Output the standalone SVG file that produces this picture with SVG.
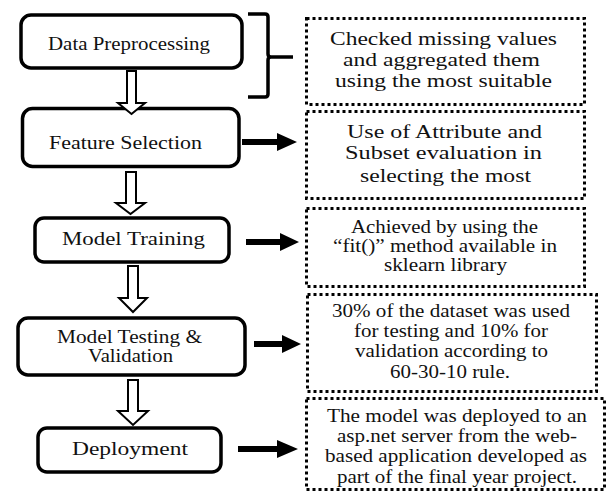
<svg xmlns="http://www.w3.org/2000/svg" width="611" height="493" viewBox="0 0 611 493">
<style>
.step{fill:#fff;stroke:#000;stroke-width:3.5}
.note{fill:#fff;stroke:#000;stroke-width:3;stroke-dasharray:3 3}
.t{font-family:"Liberation Serif","Times New Roman",serif;font-size:18px;fill:#111;text-anchor:middle}
.hollow{fill:#fff;stroke:#000;stroke-width:2;stroke-linejoin:miter}
.solid{fill:#000;stroke:none}
.brace{fill:none;stroke:#000;stroke-width:3.5;stroke-linejoin:round}
</style>
<rect width="611" height="493" fill="#fff"/>

<g id="notes">
<g id="note1">
<rect class="note" x="306.5" y="18.5" width="278" height="86"/>
<text class="t" x="443.5" y="45" textLength="227" lengthAdjust="spacingAndGlyphs">Checked missing values</text>
<text class="t" x="441.5" y="66" textLength="197" lengthAdjust="spacingAndGlyphs">and aggregated them</text>
<text class="t" x="443.5" y="87" textLength="217" lengthAdjust="spacingAndGlyphs">using the most suitable</text>
</g>
<g id="note2">
<rect class="note" x="306.5" y="111.5" width="278" height="87"/>
<text class="t" x="444.5" y="138" textLength="195" lengthAdjust="spacingAndGlyphs">Use of Attribute and</text>
<text class="t" x="443.5" y="159" textLength="197" lengthAdjust="spacingAndGlyphs">Subset evaluation in</text>
<text class="t" x="445.5" y="182" textLength="171" lengthAdjust="spacingAndGlyphs">selecting the most</text>
</g>
<g id="note3">
<rect class="note" x="306.5" y="208.5" width="278" height="78"/>
<text class="t" x="444.5" y="233" textLength="187" lengthAdjust="spacingAndGlyphs">Achieved by using the</text>
<text class="t" x="445" y="252" textLength="224" lengthAdjust="spacingAndGlyphs">“fit()” method available in</text>
<text class="t" x="445.5" y="271" textLength="123" lengthAdjust="spacingAndGlyphs">sklearn library</text>
</g>
<g id="note4">
<rect class="note" x="307.5" y="294.5" width="289" height="97"/>
<text class="t" x="451" y="317" textLength="238" lengthAdjust="spacingAndGlyphs">30% of the dataset was used</text>
<text class="t" x="451" y="337" textLength="194" lengthAdjust="spacingAndGlyphs">for testing and 10% for</text>
<text class="t" x="451.5" y="357" textLength="193" lengthAdjust="spacingAndGlyphs">validation according to</text>
<text class="t" x="450" y="378" textLength="120" lengthAdjust="spacingAndGlyphs">60-30-10 rule.</text>
</g>
<g id="note5">
<rect class="note" x="306.5" y="398.5" width="298" height="91"/>
<text class="t" x="457" y="422" textLength="260" lengthAdjust="spacingAndGlyphs">The model was deployed to an</text>
<text class="t" x="457" y="442" textLength="240" lengthAdjust="spacingAndGlyphs">asp.net server from the web-</text>
<text class="t" x="456" y="462" textLength="262" lengthAdjust="spacingAndGlyphs">based application  developed as</text>
<text class="t" x="457" y="483" textLength="240" lengthAdjust="spacingAndGlyphs">part of the final year project.</text>
</g>
</g>

<g id="steps">
<g id="step1">
<rect class="step" x="21" y="15" width="221" height="53" rx="10"/>
<text class="t" x="129" y="50" textLength="162" lengthAdjust="spacingAndGlyphs">Data Preprocessing</text>
</g>
<g id="step2">
<rect class="step" x="22.5" y="108.5" width="216.5" height="58" rx="10"/>
<text class="t" x="125.5" y="149" textLength="153" lengthAdjust="spacingAndGlyphs">Feature Selection</text>
</g>
<g id="step3">
<rect class="step" x="35" y="218" width="194" height="44" rx="9"/>
<text class="t" x="133.5" y="245" textLength="143" lengthAdjust="spacingAndGlyphs">Model Training</text>
</g>
<g id="step4">
<rect class="step" x="18" y="318" width="227" height="57" rx="10"/>
<text class="t" x="129.5" y="343" textLength="145" lengthAdjust="spacingAndGlyphs">Model Testing &amp;</text>
<text class="t" x="130.5" y="362" textLength="85" lengthAdjust="spacingAndGlyphs">Validation</text>
</g>
<g id="step5">
<rect class="step" x="38" y="428" width="183" height="44" rx="9"/>
<text class="t" x="130" y="455" textLength="116" lengthAdjust="spacingAndGlyphs">Deployment</text>
</g>
</g>

<g id="connectors">
<path class="brace" d="M248,14 H265 Q268,14 268,17 V54 Q268,57 271,57 H293 M271,57 Q268,57 268,60 V94 Q268,97 265,97 H248"/>
<polygon class="hollow" points="127,71 136,71 136,103 145,103 131.5,114 118,103 127,103"/>
<polygon class="hollow" points="126,172 136,172 136,203 145,203 130.5,214 116,203 126,203"/>
<polygon class="hollow" points="128,266 138,266 138,298 147,298 133,312 119,298 128,298"/>
<polygon class="hollow" points="128,380 138,380 138,411 148,411 133,425 118,411 128,411"/>
<polygon class="solid" points="242,139 277,139 277,133 297,142 277,151 277,145 242,145"/>
<polygon class="solid" points="246,239 280,239 280,233 299,242 280,251 280,245 246,245"/>
<polygon class="solid" points="254,341 282,341 282,335 301,344 282,353 282,347 254,347"/>
<polygon class="solid" points="238,446 277,446 277,440 298,449 277,458 277,452 238,452"/>
</g>
</svg>
